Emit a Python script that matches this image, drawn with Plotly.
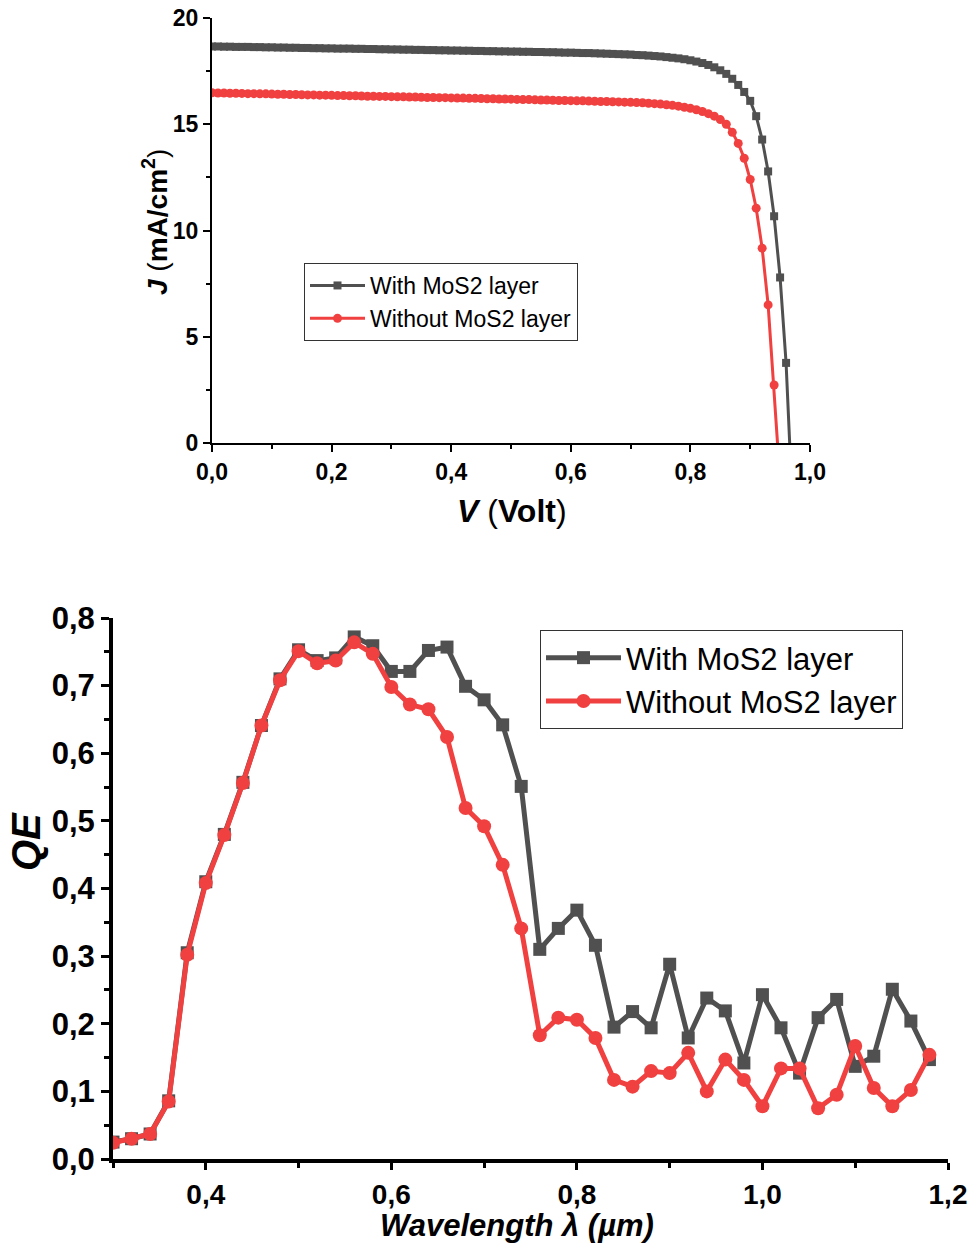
import plotly.graph_objects as go

# ---------------- J-V data ----------------
V = [0.00, 0.01, 0.02, 0.03, 0.04, 0.05, 0.06, 0.07, 0.08, 0.09,
     0.10, 0.11, 0.12, 0.13, 0.14, 0.15, 0.16, 0.17, 0.18, 0.19,
     0.20, 0.21, 0.22, 0.23, 0.24, 0.25, 0.26, 0.27, 0.28, 0.29,
     0.30, 0.31, 0.32, 0.33, 0.34, 0.35, 0.36, 0.37, 0.38, 0.39,
     0.40, 0.41, 0.42, 0.43, 0.44, 0.45, 0.46, 0.47, 0.48, 0.49,
     0.50, 0.51, 0.52, 0.53, 0.54, 0.55, 0.56, 0.57, 0.58, 0.59,
     0.60, 0.61, 0.62, 0.63, 0.64, 0.65, 0.66, 0.67, 0.68, 0.69,
     0.70, 0.71, 0.72, 0.73, 0.74, 0.75, 0.76, 0.77, 0.78, 0.79,
     0.80, 0.81, 0.82, 0.83, 0.84, 0.85, 0.86, 0.87, 0.88, 0.89,
     0.90, 0.91, 0.92, 0.93, 0.94, 0.95, 0.96, 0.97]

J_with = [18.66, 18.66, 18.65, 18.65, 18.64, 18.64, 18.64, 18.63, 18.63, 18.62,
          18.62, 18.61, 18.61, 18.60, 18.60, 18.59, 18.59, 18.58, 18.58, 18.57,
          18.57, 18.56, 18.56, 18.56, 18.55, 18.55, 18.54, 18.54, 18.53, 18.53,
          18.52, 18.52, 18.51, 18.51, 18.50, 18.50, 18.49, 18.49, 18.48, 18.48,
          18.47, 18.47, 18.46, 18.46, 18.45, 18.45, 18.44, 18.44, 18.43, 18.43,
          18.42, 18.42, 18.41, 18.41, 18.40, 18.40, 18.39, 18.39, 18.38, 18.37,
          18.37, 18.36, 18.35, 18.35, 18.34, 18.33, 18.32, 18.31, 18.30, 18.29,
          18.28, 18.26, 18.25, 18.23, 18.21, 18.19, 18.16, 18.13, 18.10, 18.06,
          18.01, 17.95, 17.88, 17.79, 17.68, 17.54, 17.37, 17.14, 16.85, 16.52,
          16.10, 15.38, 14.28, 12.78, 10.67, 7.79, 3.77, -2.5]

J_without = [16.48, 16.47, 16.47, 16.46, 16.46, 16.45, 16.44, 16.44, 16.43, 16.43,
             16.42, 16.41, 16.41, 16.40, 16.40, 16.39, 16.38, 16.38, 16.37, 16.37,
             16.36, 16.35, 16.35, 16.34, 16.34, 16.33, 16.32, 16.32, 16.31, 16.31,
             16.30, 16.29, 16.29, 16.28, 16.28, 16.27, 16.26, 16.26, 16.25, 16.25,
             16.24, 16.23, 16.23, 16.22, 16.22, 16.21, 16.20, 16.20, 16.19, 16.19,
             16.18, 16.17, 16.16, 16.16, 16.15, 16.14, 16.14, 16.13, 16.12, 16.12,
             16.11, 16.10, 16.10, 16.09, 16.08, 16.07, 16.07, 16.06, 16.05, 16.04,
             16.03, 16.02, 16.01, 15.99, 15.97, 15.95, 15.92, 15.89, 15.85, 15.80,
             15.75, 15.68, 15.60, 15.50, 15.38, 15.22, 15.00, 14.62, 14.10, 13.40,
             12.40, 11.05, 9.17, 6.50, 2.73, -1.8]

V_ticks = [0.0, 0.2, 0.4, 0.6, 0.8, 1.0]
J_ticks = [0, 5, 10, 15, 20]

# ---------------- QE data ----------------
wl = [0.30, 0.32, 0.34, 0.36, 0.38, 0.40, 0.42, 0.44, 0.46, 0.48,
      0.50, 0.52, 0.54, 0.56, 0.58, 0.60, 0.62, 0.64, 0.66, 0.68,
      0.70, 0.72, 0.74, 0.76, 0.78, 0.80, 0.82, 0.84, 0.86, 0.88,
      0.90, 0.92, 0.94, 0.96, 0.98, 1.00, 1.02, 1.04, 1.06, 1.08,
      1.10, 1.12, 1.14, 1.16, 1.18]

qe_with = [0.025, 0.030, 0.037, 0.086, 0.305, 0.410, 0.480, 0.557, 0.641, 0.710,
           0.753, 0.737, 0.741, 0.772, 0.759, 0.721, 0.721, 0.752, 0.757, 0.699,
           0.679, 0.642, 0.551, 0.310, 0.341, 0.368, 0.316, 0.195, 0.218, 0.194,
           0.288, 0.179, 0.238, 0.219, 0.142, 0.243, 0.194, 0.127, 0.209, 0.236,
           0.137, 0.152, 0.251, 0.204, 0.147]

qe_without = [0.024, 0.030, 0.037, 0.085, 0.302, 0.408, 0.479, 0.556, 0.641, 0.708,
              0.751, 0.733, 0.737, 0.764, 0.747, 0.698, 0.672, 0.665, 0.624, 0.519,
              0.492, 0.435, 0.341, 0.183, 0.209, 0.206, 0.179, 0.117, 0.107, 0.130,
              0.127, 0.157, 0.100, 0.147, 0.117, 0.078, 0.134, 0.134, 0.075, 0.095,
              0.167, 0.105, 0.078, 0.102, 0.154]

wl_ticks = [0.4, 0.6, 0.8, 1.0, 1.2]
qe_ticks = [0.0, 0.1, 0.2, 0.3, 0.4, 0.5, 0.6, 0.7, 0.8]

GRAY = "#505050"
RED = "#f0403f"
FONT = "Liberation Sans, Arial, sans-serif"

fig = go.Figure()

# top chart traces
fig.add_trace(go.Scatter(x=V, y=J_with, mode="lines+markers", name="With MoS2 layer",
                         line=dict(color=GRAY, width=3),
                         marker=dict(symbol="square", size=8, color=GRAY),
                         xaxis="x", yaxis="y", legend="legend"))
fig.add_trace(go.Scatter(x=V[:len(J_without)], y=J_without, mode="lines+markers",
                         name="Without MoS2 layer",
                         line=dict(color=RED, width=3),
                         marker=dict(symbol="circle", size=9, color=RED),
                         xaxis="x", yaxis="y", legend="legend"))

# bottom chart traces
fig.add_trace(go.Scatter(x=wl, y=qe_with, mode="lines+markers", name="With MoS2 layer",
                         line=dict(color=GRAY, width=5),
                         marker=dict(symbol="square", size=13, color=GRAY),
                         xaxis="x2", yaxis="y2", legend="legend2"))
fig.add_trace(go.Scatter(x=wl, y=qe_without, mode="lines+markers", name="Without MoS2 layer",
                         line=dict(color=RED, width=5),
                         marker=dict(symbol="circle", size=14, color=RED),
                         xaxis="x2", yaxis="y2", legend="legend2"))

top_xd = [212 / 979, 810 / 979]
top_yd = [1 - 443 / 1246, 1 - 18 / 1246]
bot_xd = [113 / 979, 948 / 979]
bot_yd = [1 - 1159 / 1246, 1 - 618 / 1246]

tick_font_top = dict(family=FONT, size=23, color="black", weight="bold")
tick_font_botx = dict(family=FONT, size=28, color="black", weight="bold")
tick_font_boty = dict(family=FONT, size=31, color="black", weight="bold")

common = dict(showgrid=False, zeroline=False, automargin=False)

fig.update_layout(
    width=979, height=1246,
    autosize=False,
    margin=dict(l=0, r=0, t=0, b=0, pad=0, autoexpand=False),
    paper_bgcolor="white", plot_bgcolor="white",
    separators=",.",
    font=dict(family=FONT, color="black"),
    xaxis=dict(domain=top_xd, anchor="y", range=[0, 1.0], **common,
               showline=True, linecolor="black", linewidth=2,
               ticks="outside", ticklen=7, tickwidth=2, tickcolor="black",
               tickvals=V_ticks, tickformat=".1f", tickfont=tick_font_top,
               minor=dict(ticks="outside", ticklen=4, tickwidth=2, tickcolor="black", dtick=0.1)),
    yaxis=dict(domain=top_yd, anchor="x", range=[0, 20], **common,
               showline=True, linecolor="black", linewidth=2,
               ticks="outside", ticklen=7, tickwidth=2, tickcolor="black",
               tickvals=J_ticks, tickfont=tick_font_top,
               minor=dict(ticks="outside", ticklen=4, tickwidth=2, tickcolor="black", dtick=2.5)),
    xaxis3=dict(overlaying="x", side="top", anchor="y", range=[0, 1.0], **common,
                showline=True, linecolor="black", linewidth=2,
                ticks="inside", ticklen=7, tickwidth=2, tickcolor="black",
                tickvals=V_ticks, showticklabels=False,
                minor=dict(ticks="inside", ticklen=4, tickwidth=2, tickcolor="black", dtick=0.1)),
    yaxis3=dict(overlaying="y", side="right", anchor="x", range=[0, 20], **common,
                showline=True, linecolor="black", linewidth=2,
                ticks="inside", ticklen=7, tickwidth=2, tickcolor="black",
                tickvals=J_ticks, showticklabels=False,
                minor=dict(ticks="inside", ticklen=4, tickwidth=2, tickcolor="black", dtick=2.5)),
    xaxis2=dict(domain=bot_xd, anchor="y2", range=[0.3, 1.2], **common,
                showline=True, linecolor="black", linewidth=4,
                ticks="outside", ticklen=7, tickwidth=3, tickcolor="black",
                tickvals=wl_ticks, tickformat=".1f", tickfont=tick_font_botx,
                minor=dict(ticks="outside", ticklen=5, tickwidth=3, tickcolor="black",
                           tick0=0.3, dtick=0.1)),
    yaxis2=dict(domain=bot_yd, anchor="x2", range=[0, 0.8], **common,
                showline=True, linecolor="black", linewidth=4,
                ticks="outside", ticklen=8, tickwidth=3, tickcolor="black",
                tickvals=qe_ticks, tickformat=".1f", tickfont=tick_font_boty,
                minor=dict(ticks="outside", ticklen=5, tickwidth=3, tickcolor="black", dtick=0.05)),
    xaxis4=dict(overlaying="x2", side="top", anchor="y2", range=[0.3, 1.2], **common,
                showline=True, linecolor="#c8c8c8", linewidth=1,
                ticks="inside", ticklen=8, tickwidth=3, tickcolor="black",
                tickvals=wl_ticks, showticklabels=False,
                minor=dict(ticks="inside", ticklen=5, tickwidth=3, tickcolor="black",
                           tick0=0.3, dtick=0.1)),
    yaxis4=dict(overlaying="y2", side="right", anchor="x2", range=[0, 0.8], **common,
                showline=True, linecolor="black", linewidth=4,
                ticks="inside", ticklen=8, tickwidth=3, tickcolor="black",
                tickvals=qe_ticks, showticklabels=False,
                minor=dict(ticks="inside", ticklen=5, tickwidth=3, tickcolor="black", dtick=0.05)),
    legend=dict(x=304 / 979, y=1 - 263 / 1246, xanchor="left", yanchor="top",
                bgcolor="white", bordercolor="#333333", borderwidth=1,
                font=dict(family=FONT, size=23, color="black"), tracegroupgap=0,
                itemwidth=55),
    legend2=dict(x=540 / 979, y=1 - 630 / 1246, xanchor="left", yanchor="top",
                 bgcolor="white", bordercolor="#333333", borderwidth=1,
                 font=dict(family=FONT, size=31, color="black"), tracegroupgap=0,
                 itemwidth=75),
    showlegend=True,
)

annotations = [
    dict(text="<b><i>V</i></b> (<b>Volt</b>)",
         x=512 / 979, y=1 - 511 / 1246, xref="paper", yref="paper",
         xanchor="center", yanchor="middle",
         showarrow=False, font=dict(family=FONT, size=32, color="black")),
    dict(text="<b><i>J</i></b> (<b>mA/cm<sup>2</sup></b>)",
         x=155 / 979, y=1 - 222 / 1246, xref="paper", yref="paper", textangle=-90,
         xanchor="center", yanchor="middle",
         showarrow=False, font=dict(family=FONT, size=28, color="black")),
    dict(text="<b><i>QE</i></b>",
         x=26 / 979, y=1 - 842 / 1246, xref="paper", yref="paper", textangle=-90,
         xanchor="center", yanchor="middle",
         showarrow=False, font=dict(family=FONT, size=40, color="black")),
    dict(text="<b><i>Wavelength λ (µm)</i></b>",
         x=517 / 979, y=1 - 1245 / 1246, xref="paper", yref="paper",
         xanchor="center", yanchor="bottom",
         showarrow=False, font=dict(family=FONT, size=31, color="black")),
]
fig.update_layout(annotations=annotations)

fig.write_html("out.html", config={"responsive": False})
